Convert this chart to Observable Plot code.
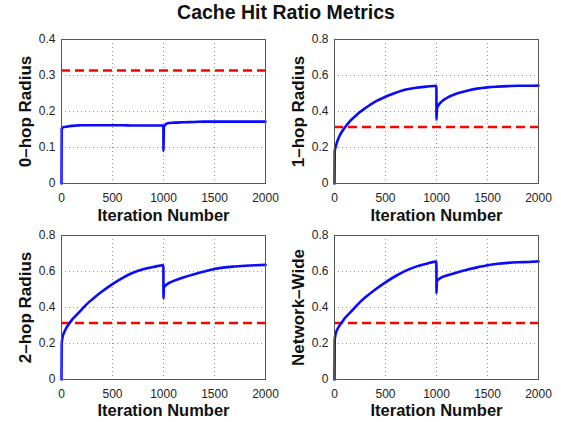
<!DOCTYPE html>
<html>
<head>
<meta charset="utf-8">
<script src="https://cdn.jsdelivr.net/npm/d3@7"></script>
<script src="https://cdn.jsdelivr.net/npm/@observablehq/plot@0.6"></script>
<style>
  body { margin: 0; background: #fff; }
  #wrap { position: relative; width: 561px; height: 422px; overflow: hidden; font-family: "Liberation Sans", Arial, Helvetica, sans-serif; }
  #title { position: absolute; left: 0; width: 572px; top: 1px; text-align: center; font-size: 19.5px; font-weight: bold; color: #111; }
  .panel { position: absolute; }
</style>
</head>
<body>
<div id="wrap"><div id="title">Cache Hit Ratio Metrics</div></div>
<script>
const chartTitle = "Cache Hit Ratio Metrics";
const xLabel = "Iteration Number";
const panelLabels = ["0–hop Radius", "1–hop Radius", "2–hop Radius", "Network–Wide"];
const xTicks = [0, 500, 1000, 1500, 2000];
const yTicksSmall = [0, 0.1, 0.2, 0.3, 0.4];
const yTicksLarge = [0, 0.2, 0.4, 0.6, 0.8];
const baselineRatio = 0.314;

const iterations = [0, 2, 10, 25, 50, 75, 100, 150, 200, 250, 300, 400, 500, 600, 700, 800, 900, 999, 1000, 1004, 1025, 1050, 1100, 1200, 1300, 1400, 1500, 1600, 1700, 1800, 1900, 2000];
const hop0 = [0, 0.152, 0.155, 0.157, 0.158, 0.159, 0.160, 0.161, 0.162, 0.162, 0.162, 0.162, 0.162, 0.162, 0.161, 0.161, 0.161, 0.161, 0.090, 0.158, 0.165, 0.168, 0.169, 0.170, 0.171, 0.172, 0.172, 0.172, 0.172, 0.172, 0.172, 0.172];
const hop1 = [0, 0.180, 0.200, 0.230, 0.265, 0.290, 0.310, 0.345, 0.372, 0.397, 0.418, 0.455, 0.482, 0.504, 0.522, 0.532, 0.538, 0.543, 0.355, 0.415, 0.440, 0.455, 0.475, 0.500, 0.515, 0.527, 0.534, 0.538, 0.541, 0.543, 0.543, 0.544];
const hop2 = [0, 0.200, 0.235, 0.260, 0.290, 0.310, 0.330, 0.360, 0.390, 0.420, 0.445, 0.490, 0.530, 0.565, 0.593, 0.612, 0.625, 0.635, 0.450, 0.510, 0.525, 0.535, 0.548, 0.568, 0.585, 0.600, 0.614, 0.623, 0.628, 0.632, 0.635, 0.637];
const networkWide = [0, 0.220, 0.250, 0.275, 0.300, 0.320, 0.340, 0.370, 0.400, 0.430, 0.455, 0.500, 0.540, 0.575, 0.605, 0.627, 0.643, 0.655, 0.480, 0.545, 0.558, 0.568, 0.578, 0.595, 0.610, 0.623, 0.635, 0.643, 0.648, 0.651, 0.653, 0.656];

const panels = [
  {label: panelLabels[0], values: hop0, yTicks: yTicksSmall, left: 0, top: 24, xdy: 32},
  {label: panelLabels[1], values: hop1, yTicks: yTicksLarge, left: 273, top: 24, xdy: 32},
  {label: panelLabels[2], values: hop2, yTicks: yTicksLarge, left: 0, top: 220, xdy: 31},
  {label: panelLabels[3], values: networkWide, yTicks: yTicksLarge, left: 273, top: 220, xdy: 31}
];

const wrap = document.getElementById("wrap");
document.getElementById("title").textContent = chartTitle;
const font = '"Liberation Sans", Arial, Helvetica, sans-serif';

for (const p of panels) {
  const data = iterations.map((x, i) => ({x, y: p.values[i]}));
  const yMax = p.yTicks[p.yTicks.length - 1];
  const chart = Plot.plot({
    width: 280,
    height: 200,
    marginLeft: 61,
    marginRight: 15,
    marginTop: 15,
    marginBottom: 41,
    style: {fontFamily: font, fontSize: "12px", color: "#222", background: "transparent", overflow: "visible"},
    x: {domain: [0, 2000], ticks: xTicks, tickFormat: d => String(d)},
    y: {domain: [0, yMax], ticks: p.yTicks, tickFormat: d => String(d)},
    marks: [
      Plot.gridX(xTicks, {stroke: "#999", strokeOpacity: 1, strokeDasharray: "1,3"}),
      Plot.gridY(p.yTicks, {stroke: "#999", strokeOpacity: 1, strokeDasharray: "1,3"}),
      Plot.axisX(xTicks, {tickSize: 0, tickPadding: 10, label: null, tickFormat: d => String(d)}),
      Plot.axisY(p.yTicks, {tickSize: 0, tickPadding: 6, label: null, tickFormat: d => String(d)}),
      Plot.ruleY([baselineRatio], {stroke: "#ff0000", strokeWidth: 2.6, strokeDasharray: "9,5"}),
      Plot.line(data, {x: "x", y: "y", stroke: "#0a0aff", strokeWidth: 2.6, curve: "monotone-x"}),
      Plot.frame({stroke: "#555", strokeWidth: 1}),
      Plot.text([p.label], {frameAnchor: "left", dx: -36, rotate: -90, text: d => d, fontSize: 17, fontWeight: "bold", fill: "#111", textAnchor: "middle", lineAnchor: "middle"}),
      Plot.text([xLabel], {frameAnchor: "bottom", dy: p.xdy, text: d => d, fontSize: 16.5, fontWeight: "bold", fill: "#111", textAnchor: "middle", lineAnchor: "middle"})
    ]
  });
  chart.classList.add("panel");
  chart.style.left = p.left + "px";
  chart.style.top = p.top + "px";
  wrap.appendChild(chart);
}
</script>
</body>
</html>
